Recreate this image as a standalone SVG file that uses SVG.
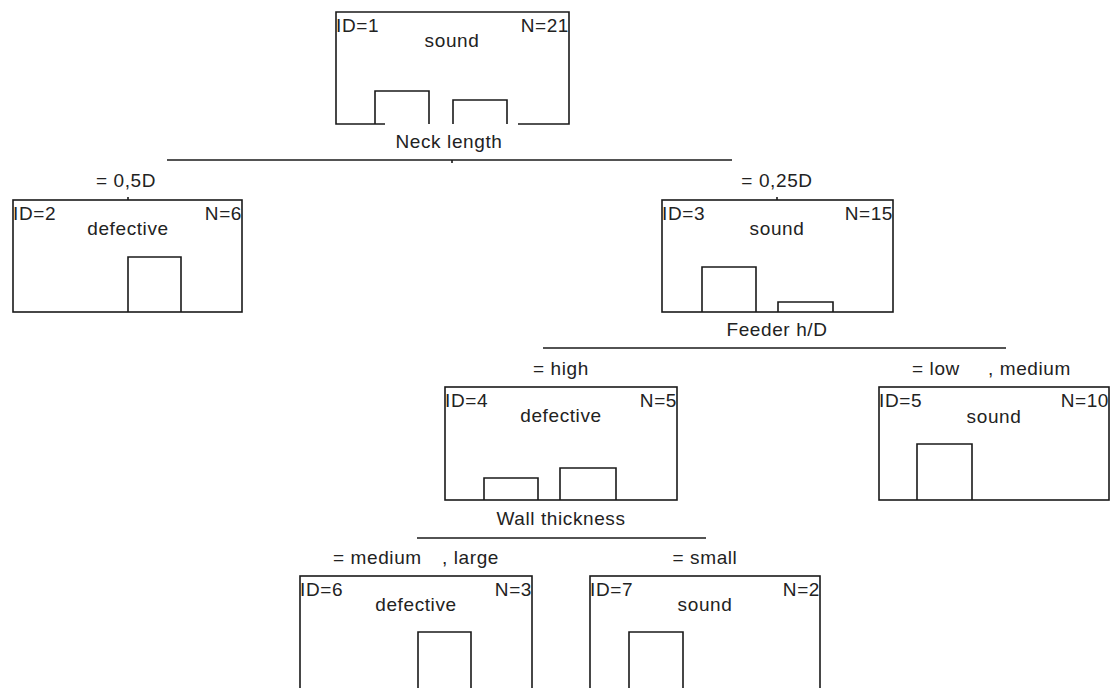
<svg xmlns="http://www.w3.org/2000/svg" width="1111" height="688" viewBox="0 0 1111 688">
<style>
text{font-family:"Liberation Sans",Arial,sans-serif;font-size:19px;fill:#222;letter-spacing:0.6px}
.m{text-anchor:middle}
.e{text-anchor:end}
.b{fill:#fff;stroke:#1a1a1a;stroke-width:1.6}
.l{fill:none;stroke:#1a1a1a;stroke-width:1.6}
</style>
<rect width="1111" height="688" fill="#fff"/>
<g id="connectors">
<line class="l" x1="167" y1="160" x2="732" y2="160"/>
<line class="l" x1="452" y1="160" x2="452" y2="163"/>
<line class="l" x1="128" y1="197" x2="128" y2="200"/>
<line class="l" x1="777" y1="197" x2="777" y2="200"/>
<text class="m" x="126" y="187">= 0,5D</text>
<text class="m" x="777" y="187">= 0,25D</text>
<line class="l" x1="543" y1="348" x2="1006" y2="348"/>
<text class="m" x="561" y="375">= high</text>
<text y="375"><tspan x="912">= low</tspan><tspan x="988">, medium</tspan></text>
<line class="l" x1="417" y1="538" x2="706" y2="538"/>
<text y="564"><tspan x="333">= medium</tspan><tspan x="442">, large</tspan></text>
<text class="m" x="705" y="564">= small</text>
</g>
<g id="node1">
<path class="l" d="M385 124H336V12H569V124H518"/>
<path class="l" d="M375 124V91H429V124M453 124V100H507V124"/>
<text x="336" y="32">ID=1</text>
<text class="e" x="569" y="32">N=21</text>
<text class="m" x="452" y="47">sound</text>
<text class="m" x="449" y="148">Neck length</text>
</g>
<g id="node2">
<rect class="b" x="13" y="200" width="229" height="112"/>
<path class="l" d="M128 312V257H181V312"/>
<text x="13" y="220">ID=2</text>
<text class="e" x="242" y="220">N=6</text>
<text class="m" x="128" y="235">defective</text>
</g>
<g id="node3">
<rect class="b" x="662" y="200" width="231" height="112"/>
<path class="l" d="M702 312V267H756V312M778 312V302H833V312"/>
<text x="662" y="220">ID=3</text>
<text class="e" x="893" y="220">N=15</text>
<text class="m" x="777" y="235">sound</text>
<text class="m" x="777" y="336">Feeder h/D</text>
</g>
<g id="node4">
<rect class="b" x="445" y="387" width="232" height="113"/>
<path class="l" d="M484 500V478H538V500M560 500V468H616V500"/>
<text x="445" y="407">ID=4</text>
<text class="e" x="677" y="407">N=5</text>
<text class="m" x="561" y="422">defective</text>
<text class="m" x="561" y="525">Wall thickness</text>
</g>
<g id="node5">
<rect class="b" x="879" y="387" width="230" height="113"/>
<path class="l" d="M917 500V444H972V500"/>
<text x="879" y="407">ID=5</text>
<text class="e" x="1109" y="407">N=10</text>
<text class="m" x="994" y="423">sound</text>
</g>
<g id="node6">
<rect class="b" x="300" y="576" width="232" height="130"/>
<path class="l" d="M418 700V632H471V700"/>
<text x="300" y="596">ID=6</text>
<text class="e" x="532" y="596">N=3</text>
<text class="m" x="416" y="611">defective</text>
</g>
<g id="node7">
<rect class="b" x="590" y="576" width="230" height="130"/>
<path class="l" d="M629 700V632H683V700"/>
<text x="590" y="596">ID=7</text>
<text class="e" x="820" y="596">N=2</text>
<text class="m" x="705" y="611">sound</text>
</g>
</svg>
